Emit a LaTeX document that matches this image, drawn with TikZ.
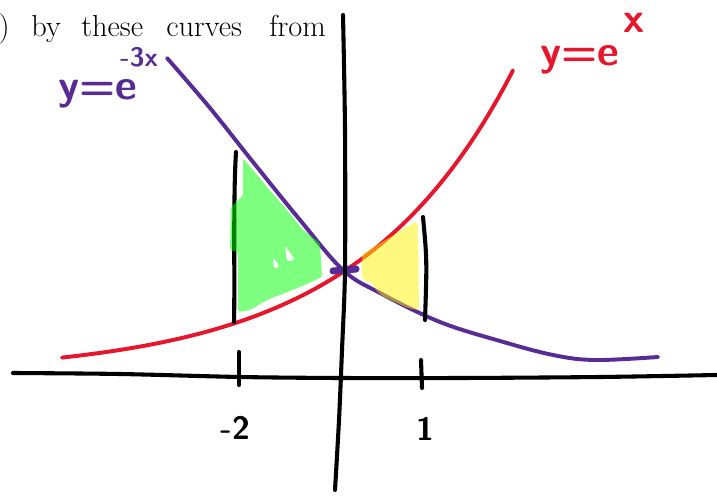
\documentclass[tikz,border=0pt]{standalone}
\usepackage{fontspec}

\definecolor{expred}{RGB}{230,22,45}
\definecolor{exppurple}{RGB}{88,44,148}

\begin{document}
\begin{tikzpicture}[x=0.025cm,y=-0.025cm,line cap=round,line join=round,every node/.style={inner sep=0pt},
  ink/.style={line width=2.9pt},
  curveline/.style={line width=2.8pt},
  bookfont/.style={font=\fontsize{21.6}{26}\selectfont},
  handfont/.style={font=\fontsize{30}{30}\selectfont\sffamily\bfseries},
  ticklabel/.style={font=\fontsize{23}{23}\selectfont\sffamily\bfseries}]
  \useasboundingbox (0,0) rectangle (717,497);
  \clip (0,0) rectangle (717,497);

  % line of the book page above the sketch
  \node[bookfont,anchor=base east] (w0) at (10,37) {)};
  \node[bookfont,anchor=base west] (w1) at (31,37) {by};
  \node[bookfont,anchor=base west] (w2) at (81,37) {these};
  \node[bookfont,anchor=base west] (w3) at (166,37) {curves};
  \node[bookfont,anchor=base west] (w4) at (269,37) {from};

  % the two curves
  \draw[curveline,expred] plot[domain=62:513,samples=60] (\x,{374.6-102.6*exp(0.0064*(\x-343))});
  \draw[curveline,exppurple] plot[smooth,tension=0.6] coordinates {(167,58) (210,108) (253,162) (300,220) (343,270) (380,293) (440,322) (500,341) (553,355) (595,360) (658,357)};

  % bounds at -2 and 1
  \draw[ink] (236,152) .. controls (233,200) and (235,280) .. (234,322);
  \draw[ink] (423,217) .. controls (427,260) .. (425,320);

  % shaded areas
  \fill[green,opacity=0.5,even odd rule,rounded corners=2pt]
    (243,158) -- (267,187) -- (287,210) -- (303,230) -- (320,243) -- (322,277) -- (300,287) -- (267,300) -- (250,310) -- (238,312)
    -- (238,283) -- (238,252) -- (230,250) -- (231,207) -- (237,201) -- (243,196) -- cycle
    (273,257) -- (274,269) -- (280,267) -- cycle
    (285,245) -- (287,262) -- (295,260) -- cycle;
  \fill[yellow,opacity=0.5,rounded corners=2pt]
    (362,254) -- (392,236) -- (415,222) -- (418,224) -- (419,310) -- (408,308) -- (382,296) -- (376,290) -- (372,283) -- (362,279) -- cycle;
  \draw[exppurple,line width=5pt] (333,271) -- (356,269);

  % axes
  \draw[ink] plot[smooth] coordinates {(13,373) (120,374) (240,377) (340,378) (460,378) (600,377) (717,375)};
  \draw[ink] plot[smooth] coordinates {(343,15) (345,130) (345,270) (342,350) (339,420) (335,490)};
  \coordinate (tickA) at (239,352);
  \coordinate (tickB) at (421,360);
  \draw[ink] (tickA) -- ++(0,33);
  \draw[ink] (tickB) -- ++(1,28);
  \node[ticklabel] (labA) at (235,428) {-2};
  \node[ticklabel] (labB) at (425,429) {1};

  % curve names
  \node[handfont,text=exppurple,anchor=base west] (namepurple) at (58,100) {y=e\hspace{-0.4em}\raisebox{0.8em}{\fontsize{19}{19}\selectfont -3x}};
  \node[handfont,text=expred,anchor=base west] (namered) at (540,66) {y=e\hspace{0.1em}\raisebox{0.8em}{x}};
\end{tikzpicture}
\end{document}
